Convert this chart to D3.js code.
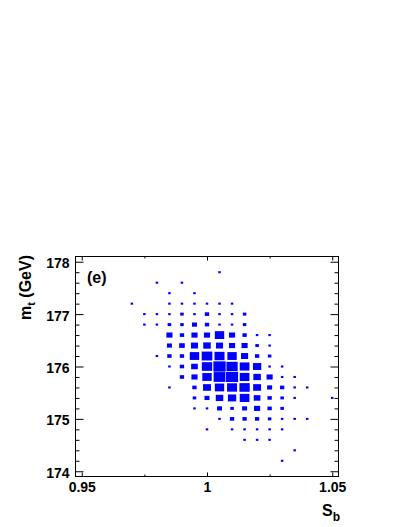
<!DOCTYPE html>
<html>
<head>
<meta charset="utf-8">
<script src="https://cdn.jsdelivr.net/npm/d3@7"></script>
<style>
  body { margin: 0; background: #fff; }
  svg { display: block; }
  text { font-family: "Liberation Sans", Arial, Helvetica, sans-serif; font-weight: bold; }
</style>
</head>
<body>
<svg width="407" height="527"></svg>
<script>
"use strict";

// bin centres
var sbBins = [0.970, 0.975, 0.980, 0.985, 0.990, 0.995, 1.000, 1.005, 1.010,
              1.015, 1.020, 1.025, 1.030, 1.035, 1.040, 1.045, 1.050];
var mtBins = [177.8, 177.6, 177.4, 177.2, 177.0, 176.8, 176.6, 176.4, 176.2, 176.0,
              175.8, 175.6, 175.4, 175.2, 175.0, 174.8, 174.6, 174.4, 174.2];

// estimated bin contents, one row per mt bin (top to bottom), one column per S_b bin
var counts = [
  [0,0,0,0,0,0,0,1,0,0,0,0,0,0,0,0,0],
  [0,0,1,0,1,0,0,0,0,0,0,0,0,0,0,0,0],
  [0,0,0,1,0,1,0,0,0,0,0,0,0,0,0,0,0],
  [1,0,0,1,1,1,1,1,1,0,0,0,0,0,0,0,0],
  [0,1,1,1,2,1,3,1,1,2,0,0,0,0,0,0,0],
  [0,1,1,2,2,4,3,1,1,2,0,0,0,0,0,0,0],
  [0,0,0,6,3,6,6,14,6,3,1,1,0,0,0,0,0],
  [0,0,0,4,5,8,9,8,6,6,2,1,0,0,0,0,0],
  [0,0,1,3,3,14,18,16,14,8,3,2,0,0,0,0,0],
  [0,0,0,1,3,7,17,24,20,15,11,1,1,0,0,0,0],
  [0,0,0,0,3,6,14,22,23,15,9,6,1,1,0,0,0],
  [0,0,0,1,0,3,10,14,16,17,10,4,3,1,1,0,0],
  [0,0,0,0,0,2,4,9,11,15,7,3,2,1,0,0,1],
  [0,0,0,0,0,1,1,4,2,4,6,3,2,0,0,0,0],
  [0,0,0,0,0,0,0,1,3,3,3,2,1,1,1,0,0],
  [0,0,0,0,0,0,1,0,1,1,1,1,1,0,0,0,0],
  [0,0,0,0,0,0,0,0,0,1,1,1,0,0,0,0,0],
  [0,0,0,0,0,0,0,0,0,0,0,0,0,1,0,0,0],
  [0,0,0,0,0,0,0,0,0,0,0,0,1,0,0,0,0]
];

var xTicks = [0.95, 1.00, 1.05],
    xMinor = [0.975, 1.025],
    yTicks = [174, 175, 176, 177, 178],
    yMinor = [174.2, 174.4, 174.6, 174.8, 175.2, 175.4, 175.6, 175.8,
              176.2, 176.4, 176.6, 176.8, 177.2, 177.4, 177.6, 177.8];

var svg = d3.select("svg");
var frameL = 75.5, frameR = 338.5, frameT = 256.5, frameB = 476.5;

var x = d3.scaleLinear().domain([0.9475, 1.0525]).range([frameL, frameR]);
var y = d3.scaleLinear().domain([173.9, 178.1]).range([frameB, frameT]);
var frac = d3.scaleSqrt().domain([0, 25]).range([0, 1]);

var cellW = x(0.005) - x(0),
    cellH = y(0) - y(0.2);

// flatten the matrix
var cells = [];
mtBins.forEach(function(m, i) {
  sbBins.forEach(function(s, j) {
    var c = counts[i][j];
    if (c > 0) cells.push({sb: s, mt: m, n: c});
  });
});

svg.append("g").attr("class", "boxes")
  .selectAll("rect")
  .data(cells)
  .enter().append("rect")
    .attr("x", d => x(d.sb) - cellW * frac(d.n) / 2)
    .attr("y", d => y(d.mt) - cellH * frac(d.n) / 2)
    .attr("width", d => cellW * frac(d.n))
    .attr("height", d => cellH * frac(d.n))
    .attr("fill", "#0000ff");

// axes, ticks pointing into the frame
var fmt = d3.format("");

svg.append("g").attr("transform", "translate(0," + frameB + ")")
  .call(d3.axisBottom(x).tickValues(xTicks).tickSize(-4).tickSizeOuter(0).tickPadding(6).tickFormat(fmt));
svg.append("g").attr("transform", "translate(0," + frameB + ")")
  .call(d3.axisBottom(x).tickValues(xMinor).tickSize(-2).tickSizeOuter(0).tickFormat(""));
svg.append("g").attr("transform", "translate(0," + frameT + ")")
  .call(d3.axisTop(x).tickValues(xTicks).tickSize(-4).tickSizeOuter(0).tickFormat(""));
svg.append("g").attr("transform", "translate(0," + frameT + ")")
  .call(d3.axisTop(x).tickValues(xMinor).tickSize(-2).tickSizeOuter(0).tickFormat(""));

var yAxis = svg.append("g").attr("transform", "translate(" + frameL + ",0)")
  .call(d3.axisLeft(y).tickValues(yTicks).tickSize(-8).tickSizeOuter(0).tickPadding(6).tickFormat(fmt));
svg.append("g").attr("transform", "translate(" + frameL + ",0)")
  .call(d3.axisLeft(y).tickValues(yMinor).tickSize(-4).tickSizeOuter(0).tickFormat(""));
svg.append("g").attr("transform", "translate(" + frameR + ",0)")
  .call(d3.axisRight(y).tickValues(yTicks).tickSize(-8).tickSizeOuter(0).tickFormat(""));
svg.append("g").attr("transform", "translate(" + frameR + ",0)")
  .call(d3.axisRight(y).tickValues(yMinor).tickSize(-4).tickSizeOuter(0).tickFormat(""));

svg.selectAll(".domain").remove();
svg.selectAll(".tick line").attr("stroke", "#000").attr("stroke-width", 1);
svg.selectAll(".tick text")
  .attr("fill", "#000")
  .style("font-size", "14px")
  .style("font-family", "'Liberation Sans', Arial, sans-serif")
  .style("font-weight", "bold");
yAxis.selectAll(".tick text").attr("dy", "0.42em");

svg.append("rect")
  .attr("x", frameL).attr("y", frameT)
  .attr("width", frameR - frameL).attr("height", frameB - frameT)
  .attr("fill", "none").attr("stroke", "#000").attr("stroke-width", 1);

// titles
var yTitle = svg.append("text")
  .attr("transform", "translate(31,255) rotate(-90)")
  .attr("text-anchor", "end")
  .style("font-size", "16px");
yTitle.append("tspan").text("m");
yTitle.append("tspan").attr("dy", 4).style("font-size", "11px").text("t");
yTitle.append("tspan").attr("dy", -4).text(" (GeV)");

var xTitle = svg.append("text")
  .attr("x", 340).attr("y", 516)
  .attr("text-anchor", "end")
  .style("font-size", "16px");
xTitle.append("tspan").text("S");
xTitle.append("tspan").attr("dy", 5).style("font-size", "12px").text("b");

svg.append("text")
  .attr("x", 87).attr("y", 283)
  .style("font-size", "16px")
  .text("(e)");
</script>
</body>
</html>
